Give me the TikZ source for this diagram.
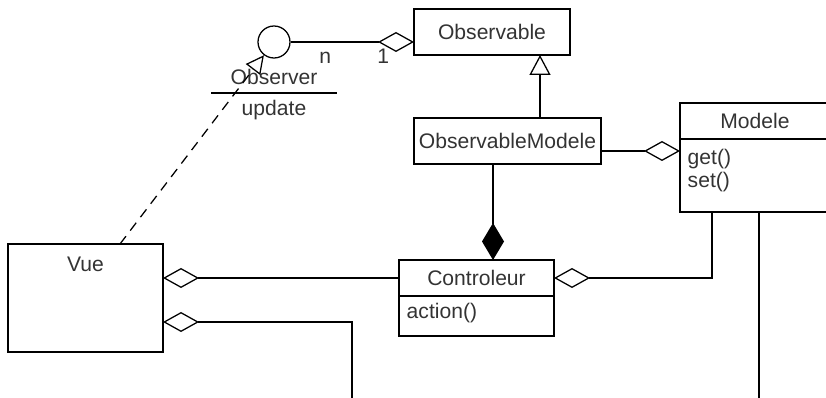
\documentclass[tikz,border=0pt]{standalone}
\usepackage{fontspec}
\setmainfont{Liberation Sans}
\usetikzlibrary{positioning,calc,arrows.meta}
\newcommand\pxl{0.025cm}
\tikzset{cls/.style={draw, line width=0.9pt, inner sep=0pt, outer sep=0pt, anchor=north west, font=\fontsize{15}{17}\selectfont, text=black!80}}
\tikzset{clsops/.style={cls, align=left, inner xsep=5.5pt}}
\tikzset{lbl/.style={font=\fontsize{15}{17}\selectfont, text=black!80}}
\tikzset{arr/.style={draw, line width=0.9pt}}
\tikzset{aggr/.style={arr, {Diamond[open, length=0.9cm, width=0.5cm]}-}}
\tikzset{compo/.style={arr, {Diamond[length=0.925cm, width=0.55cm]}-}}
\tikzset{inher/.style={arr, -{Triangle[open, length=0.5cm, width=0.525cm]}}}
\tikzset{realz/.style={arr, dashed, dash pattern=on 7pt off 5pt, -{Triangle[open, length=0.45cm, width=0.45cm]}}}
\begin{document}
\begin{tikzpicture}[x=\pxl, y=-\pxl]
  \useasboundingbox (0,0) rectangle (826,398);
  \clip (0,0) rectangle (826,398);
  % classes
  \node[cls, minimum width=156*\pxl, minimum height=46*\pxl] (obsable) at (414,9) {Observable};
  \node[cls, minimum width=187*\pxl, minimum height=46*\pxl] (obsmod) at (414,118) {ObservableModele};
  \node[cls, minimum width=150*\pxl, minimum height=36*\pxl] (modhead) at (680,103) {Modele};
  \node[clsops, text width=150*\pxl-11pt, text height=0.625cm, text depth=1.2cm,
        below right=0pt of modhead.south west] (modops) {get()\\set()};
  \node[cls, minimum width=155*\pxl, minimum height=36*\pxl] (ctrl) at (399,260) {Controleur};
  \node[clsops, text width=155*\pxl-11pt, text height=0.55cm, text depth=0.45cm,
        below right=0pt of ctrl.south west] (ctrlops) {action()};
  \node[cls, minimum width=155*\pxl, text height=0.675cm, text depth=2.025cm] (vue) at (8,244) {Vue};
  % interface Observer
  \node[draw, circle, line width=0.9pt, minimum size=32*\pxl, inner sep=0pt] (iface) at (274,42) {};
  \node[lbl, anchor=south, inner sep=0pt, text depth=6pt, minimum width=125*\pxl] (observer) at (274,93) {Observer};
  \node[lbl, inner sep=0pt, below=5pt of observer] (update) {update};
  \draw[arr] (observer.south west) -- (observer.south east);
  % helper points
  \coordinate (genx) at (540,0);
  \coordinate (compx) at (493,0);
  \coordinate (aggy) at (0,151);
  \coordinate (modlink) at (712,0);
  \coordinate (dashfoot) at (120,0);
  \coordinate (vuelow) at (352,405);
  \coordinate (modlow) at (759,405);
  % connectors
  \draw[aggr] (obsable.west |- iface.east) --
      node[lbl, below=4pt, text height=10.7pt, inner sep=0pt, pos=0.25] (one) {1}
      node[lbl, below=4pt, text height=10.7pt, inner sep=0pt, pos=0.72] (many) {n}
      (iface.east);
  \draw[inher] (obsmod.north -| genx) -- (obsable.south -| genx);
  \draw[compo] (ctrl.north -| compx) -- (obsmod.south -| compx);
  \draw[aggr] (modops.west |- aggy) -- (obsmod.east |- aggy);
  \draw[aggr] (ctrl.east) -- (ctrl.east -| modlink) -- (modlink |- modops.south);
  \draw[aggr] (vue.east |- ctrl.west) -- (ctrl.west);
  \draw[aggr] ($(vue.north east)+(0,78)$) -| (vuelow);
  \draw[arr] (modops.south -| modlow) -- (modlow);
  \draw[realz] (vue.north -| dashfoot) -- (iface);
\end{tikzpicture}
\end{document}
